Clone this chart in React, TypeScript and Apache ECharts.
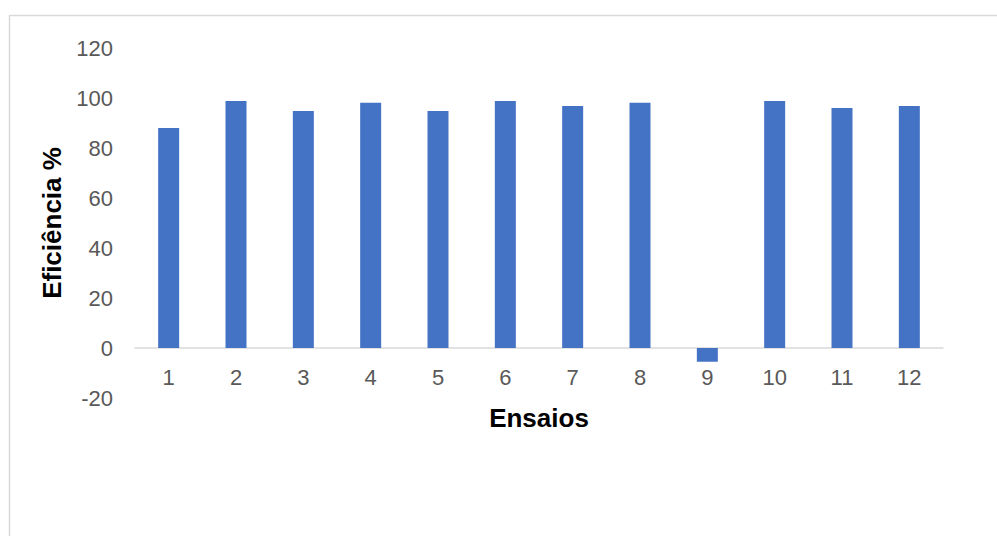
import React, { useEffect, useRef } from "react";
import * as echarts from "echarts";

const categories = ["1", "2", "3", "4", "5", "6", "7", "8", "9", "10", "11", "12"];
const eficiencia = [88, 98.8, 94.8, 98.1, 94.8, 98.8, 96.8, 98.1, -5.5, 98.8, 96, 96.8];
const yMin = -20;
const yMax = 120;
const yStep = 20;

export default function App() {
  const ref = useRef<HTMLDivElement>(null);
  useEffect(() => {
    if (!ref.current) return;
    const chart = echarts.init(ref.current, null, { renderer: "svg" });
    chart.setOption({
      animation: false,
      backgroundColor: "#ffffff",
      textStyle: { fontFamily: "Liberation Sans, Arial, sans-serif" },
      graphic: [
        {
          type: "rect",
          shape: { x: 9.5, y: 15.5, width: 1010, height: 560 },
          style: { fill: "none", stroke: "#d9d9d9", lineWidth: 1.5 },
          silent: true,
        },
      ],
      grid: { left: 135, top: 48, width: 808, height: 350, containLabel: false },
      xAxis: {
        type: "category",
        data: categories,
        position: "bottom",
        offset: -50,
        name: "Ensaios",
        nameLocation: "middle",
        nameGap: 57,
        nameTextStyle: { fontSize: 26, fontWeight: "bold", color: "#000000", fontFamily: "Liberation Sans, Arial, sans-serif" },
        axisLine: { onZero: false, lineStyle: { color: "#d9d9d9", width: 1.5 } },
        axisTick: { show: false },
        axisLabel: { fontSize: 22, color: "#595959", margin: 18, fontFamily: "Liberation Sans, Arial, sans-serif" },
        splitLine: { show: false },
      },
      yAxis: {
        type: "value",
        min: yMin,
        max: yMax,
        interval: yStep,
        name: "Eficiência %",
        nameLocation: "middle",
        nameRotate: 90,
        nameGap: 62,
        nameTextStyle: { fontSize: 26, fontWeight: "bold", color: "#000000", fontFamily: "Liberation Sans, Arial, sans-serif" },
        axisLine: { show: false },
        axisTick: { show: false },
        splitLine: { show: false },
        axisLabel: { fontSize: 22, color: "#595959", margin: 22, fontFamily: "Liberation Sans, Arial, sans-serif" },
      },
      series: [
        {
          type: "bar",
          data: eficiencia,
          barWidth: 21,
          itemStyle: { color: "#4472C4" },
        },
      ],
    });
    return () => chart.dispose();
  }, []);
  return (
    <div
      ref={ref}
      style={{ position: "absolute", left: 0, top: 0, width: 997, height: 536 }}
    />
  );
}
